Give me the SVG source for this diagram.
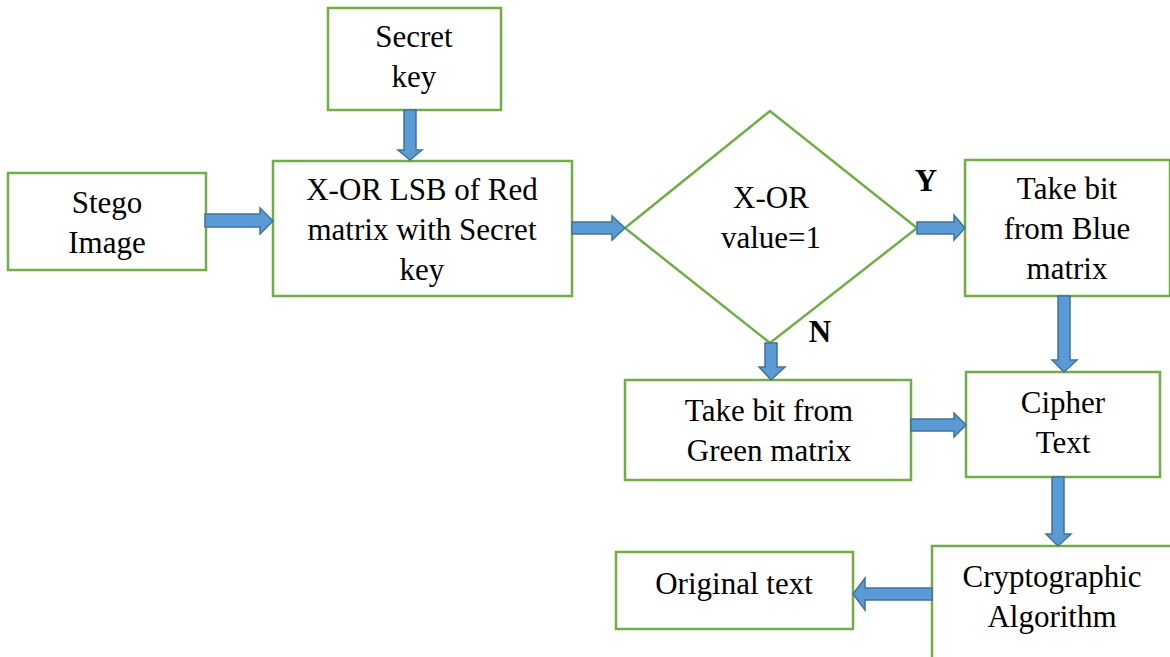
<svg xmlns="http://www.w3.org/2000/svg" width="1170" height="657" viewBox="0 0 1170 657">
<style>
.box{fill:#fff;stroke:#70AD47;stroke-width:2.5}
.arr{fill:#5B9BD5;stroke:#41719C;stroke-width:1.5;stroke-linejoin:miter}
</style>
<rect width="1170" height="657" fill="#fff"/>
<g font-family="Liberation Serif" font-size="31" text-anchor="middle" fill="#000">
<g id="secret"><rect class="box" x="328" y="8" width="173" height="102"/><text x="414" y="47">Secret</text><text x="414" y="87">key</text></g>
<g id="stego"><rect class="box" x="8" y="173" width="198" height="97"/><text x="107" y="213">Stego</text><text x="107" y="253">Image</text></g>
<g id="xor"><rect class="box" x="273" y="161" width="299" height="135"/><text x="422" y="200">X-OR LSB of Red</text><text x="422" y="240">matrix with Secret</text><text x="422" y="280">key</text></g>
<g id="decision"><polygon class="box" points="625,228 770,111 917,228 770,343"/><text x="771" y="208">X-OR</text><text x="771" y="248">value=1</text></g>
<g id="blue"><rect class="box" x="965" y="160" width="205" height="136"/><text x="1067" y="199">Take bit</text><text x="1067" y="239">from Blue</text><text x="1067" y="279">matrix</text></g>
<g id="green"><rect class="box" x="625" y="380" width="286" height="100"/><text x="769" y="421">Take bit from</text><text x="769" y="461">Green matrix</text></g>
<g id="cipher"><rect class="box" x="966" y="372" width="194" height="105"/><text x="1063" y="413">Cipher</text><text x="1063" y="453">Text</text></g>
<g id="crypto"><rect class="box" x="932" y="546" width="240" height="115"/><text x="1052" y="587">Cryptographic</text><text x="1052" y="627">Algorithm</text></g>
<g id="original"><rect class="box" x="616" y="552" width="237" height="77"/><text x="734" y="594">Original text</text></g>
<g id="connectors">
<polygon class="arr" points="205,214 260,214 260,208 273,221 260,234 260,227 205,227"/>
<polygon class="arr" points="404,110 416,110 416,150 422,150 410,160 398,150 404,150"/>
<polygon class="arr" points="572,222 612,222 612,216 625,228 612,240 612,234 572,234"/>
<polygon class="arr" points="917,222 954,222 954,215 965,228 954,240 954,234 917,234"/>
<polygon class="arr" points="765,343 777,343 777,367 785,367 771,380 759,367 765,367"/>
<polygon class="arr" points="1058,296 1070,296 1070,360 1077,360 1064,372 1052,360 1058,360"/>
<polygon class="arr" points="911,419 954,419 954,413 966,425 954,437 954,431 911,431"/>
<polygon class="arr" points="1052,477 1064,477 1064,534 1071,534 1058,546 1046,534 1052,534"/>
<polygon class="arr" points="932,588 865,588 865,578 853,594 865,610 865,600 932,600"/>
<text x="926" y="191" font-weight="bold">Y</text>
<text x="820" y="342" font-weight="bold">N</text>
</g>
</g>
</svg>
